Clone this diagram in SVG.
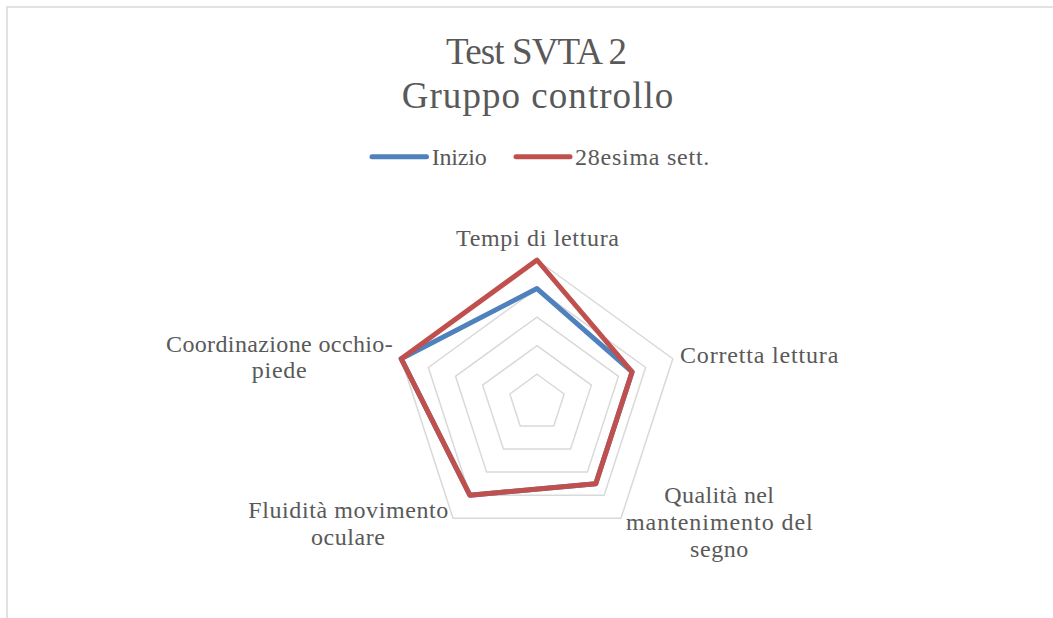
<svg xmlns="http://www.w3.org/2000/svg" width="1053" height="618" viewBox="0 0 1053 618">
  <style>
    .t { font-family: "Liberation Serif", "Times New Roman", serif; fill: #595959; }
    .title { font-size: 37px; }
    .lbl { font-size: 24px; }
    .grid { fill: none; stroke: #d9d9d9; stroke-width: 1.5; stroke-linejoin: miter; }
    .s1 { fill: none; stroke: #4f81bd; stroke-width: 5; stroke-linejoin: round; stroke-linecap: round; }
    .s2 { fill: none; stroke: #c0504d; stroke-width: 5; stroke-linejoin: round; stroke-linecap: round; }
    .frame { stroke: #d9d9d9; stroke-width: 1.5; fill: none; }
  </style>
  <rect x="0" y="0" width="1053" height="618" fill="#ffffff"/>
  <path class="frame" d="M7,618 V7 H1053"/>

  <g id="title">
    <text class="t title" x="446" y="64" textLength="181">Test SVTA 2</text>
    <text class="t title" x="401.7" y="107.7" textLength="271.6">Gruppo controllo</text>
  </g>

  <g id="legend">
    <line class="s1" x1="372" y1="156.7" x2="426.5" y2="156.7"/>
    <text class="t lbl" x="431.7" y="165" textLength="55">Inizio</text>
    <line class="s2" x1="516" y1="156.7" x2="570" y2="156.7"/>
    <text class="t lbl" x="575" y="165" textLength="134.3">28esima sett.</text>
  </g>

  <g id="grid">
    <polygon class="grid" points="537,374.24 564.16,393.97 553.79,425.91 520.21,425.91 509.84,393.97"/>
    <polygon class="grid" points="537,345.68 591.33,385.15 570.58,449.01 503.42,449.01 482.67,385.15"/>
    <polygon class="grid" points="537,317.12 618.49,376.32 587.36,472.11 486.64,472.11 455.51,376.32"/>
    <polygon class="grid" points="537,288.56 645.65,367.50 604.15,495.22 469.85,495.22 428.35,367.50"/>
    <polygon class="grid" points="537,260 672.82,358.67 620.94,518.33 453.06,518.33 401.18,358.67"/>
  </g>

  <g id="axis-tempi">
    <text class="t lbl" x="456" y="246" textLength="163">Tempi di lettura</text>
  </g>
  <g id="axis-corretta">
    <text class="t lbl" x="680" y="363.3" textLength="158.3">Corretta lettura</text>
  </g>
  <g id="axis-qualita">
    <text class="t lbl" x="664.3" y="503.3" textLength="109.7">Qualità nel</text>
    <text class="t lbl" x="626" y="530" textLength="186.7">mantenimento del</text>
    <text class="t lbl" x="690" y="556.7" textLength="58.3">segno</text>
  </g>
  <g id="axis-fluidita">
    <text class="t lbl" x="248.3" y="518.3" textLength="200">Fluidità movimento</text>
    <text class="t lbl" x="311" y="545" textLength="74">oculare</text>
  </g>
  <g id="axis-coordinazione">
    <text class="t lbl" x="166" y="351.7" textLength="226.7">Coordinazione occhio-</text>
    <text class="t lbl" x="251.7" y="378.3" textLength="55">piede</text>
  </g>

  <g id="series">
    <polygon id="series-inizio" class="s1" points="537,288.56 632.07,371.91 595.76,483.67 469.85,495.22 401.18,358.67"/>
    <polygon id="series-28" class="s2" points="537,260 632.07,371.91 595.76,483.67 469.85,495.22 401.18,358.67"/>
  </g>
</svg>
